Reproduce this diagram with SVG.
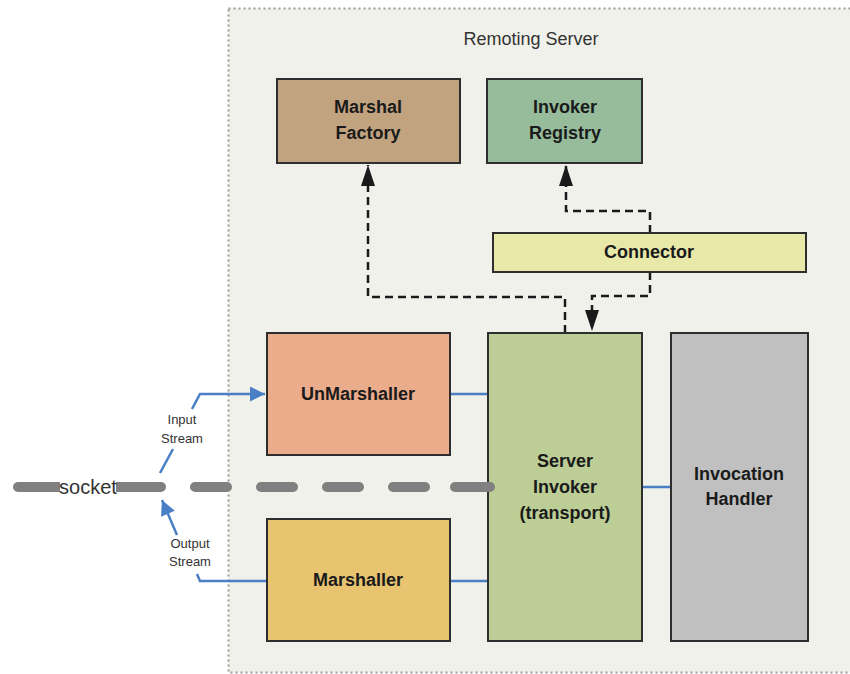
<svg xmlns="http://www.w3.org/2000/svg" width="850" height="674" viewBox="0 0 850 674">
<defs>
<style>
.box{stroke:#2e2e2e;stroke-width:2}
.lbl{font-family:"Liberation Sans",Arial,sans-serif;font-weight:bold;font-size:18px;fill:#1a1a1a;text-anchor:middle}
.sm{font-family:"Liberation Sans",Arial,sans-serif;font-size:13px;fill:#333;text-anchor:middle}
.dash{fill:none;stroke:#1a1a1a;stroke-width:2.5;stroke-dasharray:8 5}
.blue{fill:none;stroke:#4a7fc6;stroke-width:2.5}
.sock{stroke:#808080;stroke-width:10;stroke-linecap:round}
</style>
<marker id="ah" viewBox="0 0 15 10" refX="15" refY="5" markerWidth="8.5" markerHeight="6" markerUnits="strokeWidth" orient="auto">
<path d="M0,0 L15,5 L0,10 z" fill="#1a1a1a"/>
</marker>
<marker id="bh" viewBox="0 0 10 10" refX="10" refY="5" markerWidth="7" markerHeight="6" markerUnits="strokeWidth" orient="auto">
<path d="M0,0 L10,5 L0,10 z" fill="#4a7fc6"/>
</marker>
</defs>
<rect width="850" height="674" fill="#ffffff"/>
<g id="remoting-server">
<rect x="228.5" y="8.5" width="640" height="664" fill="#f1f1eb" stroke="#999" stroke-width="2" stroke-dasharray="2 3"/>
<text x="531" y="45" font-family="'Liberation Sans',Arial,sans-serif" font-size="18" fill="#333" text-anchor="middle">Remoting Server</text>
</g>
<g id="connectors">
<polyline class="dash" points="565,333 565,297 368,297 368,165" marker-end="url(#ah)"/>
<polyline class="dash" points="650,233 650,211 566,211 566,165" marker-end="url(#ah)"/>
<polyline class="dash" points="650,272 650,296 592,296 592,331" marker-end="url(#ah)"/>
<line class="blue" x1="450" y1="394" x2="488" y2="394"/>
<line class="blue" x1="450" y1="581" x2="488" y2="581"/>
<line class="blue" x1="642" y1="487" x2="670" y2="487"/>
<polyline class="blue" points="160,473 173,449"/>
<polyline class="blue" points="192,409 200,394 265,394" marker-end="url(#bh)"/>
<polyline class="blue" points="266,581 200,581 197,574"/>
<polyline class="blue" points="177,535 162,500" marker-end="url(#bh)"/>
</g>
<g id="socket">
<line class="sock" x1="18" y1="487" x2="161" y2="487"/>
<line class="sock" x1="195" y1="487" x2="490" y2="487" stroke-dasharray="32 34"/>
<rect x="60" y="477" width="56" height="20" fill="#ffffff"/>
<text x="88" y="494" font-family="'Liberation Sans',Arial,sans-serif" font-size="20" fill="#333" text-anchor="middle">socket</text>
</g>
<g id="stream-labels">
<text class="sm" x="182" y="424">Input</text>
<text class="sm" x="182" y="443">Stream</text>
<text class="sm" x="190" y="548">Output</text>
<text class="sm" x="190" y="566">Stream</text>
</g>
<g id="marshal-factory">
<rect class="box" x="277" y="79" width="183" height="84" fill="#c2a380"/>
<text class="lbl" x="368" y="113">Marshal</text>
<text class="lbl" x="368" y="139">Factory</text>
</g>
<g id="invoker-registry">
<rect class="box" x="487" y="79" width="155" height="84" fill="#96bc9b"/>
<text class="lbl" x="565" y="113">Invoker</text>
<text class="lbl" x="565" y="139">Registry</text>
</g>
<g id="connector">
<rect class="box" x="493" y="233" width="313" height="39" fill="#e8e8a8"/>
<text class="lbl" x="649" y="258">Connector</text>
</g>
<g id="unmarshaller">
<rect class="box" x="267" y="333" width="183" height="122" fill="#ebac8b"/>
<text class="lbl" x="358" y="400">UnMarshaller</text>
</g>
<g id="marshaller">
<rect class="box" x="267" y="519" width="183" height="122" fill="#e8c471"/>
<text class="lbl" x="358" y="586">Marshaller</text>
</g>
<g id="server-invoker">
<rect class="box" x="488" y="333" width="154" height="308" fill="#bccd95"/>
<text class="lbl" x="565" y="467">Server</text>
<text class="lbl" x="565" y="493">Invoker</text>
<text class="lbl" x="565" y="519">(transport)</text>
</g>
<g id="invocation-handler">
<rect class="box" x="671" y="333" width="137" height="308" fill="#c0c0c0"/>
<text class="lbl" x="739" y="480">Invocation</text>
<text class="lbl" x="739" y="505">Handler</text>
</g>
<line class="sock" x1="455" y1="487" x2="490" y2="487"/>
</svg>
